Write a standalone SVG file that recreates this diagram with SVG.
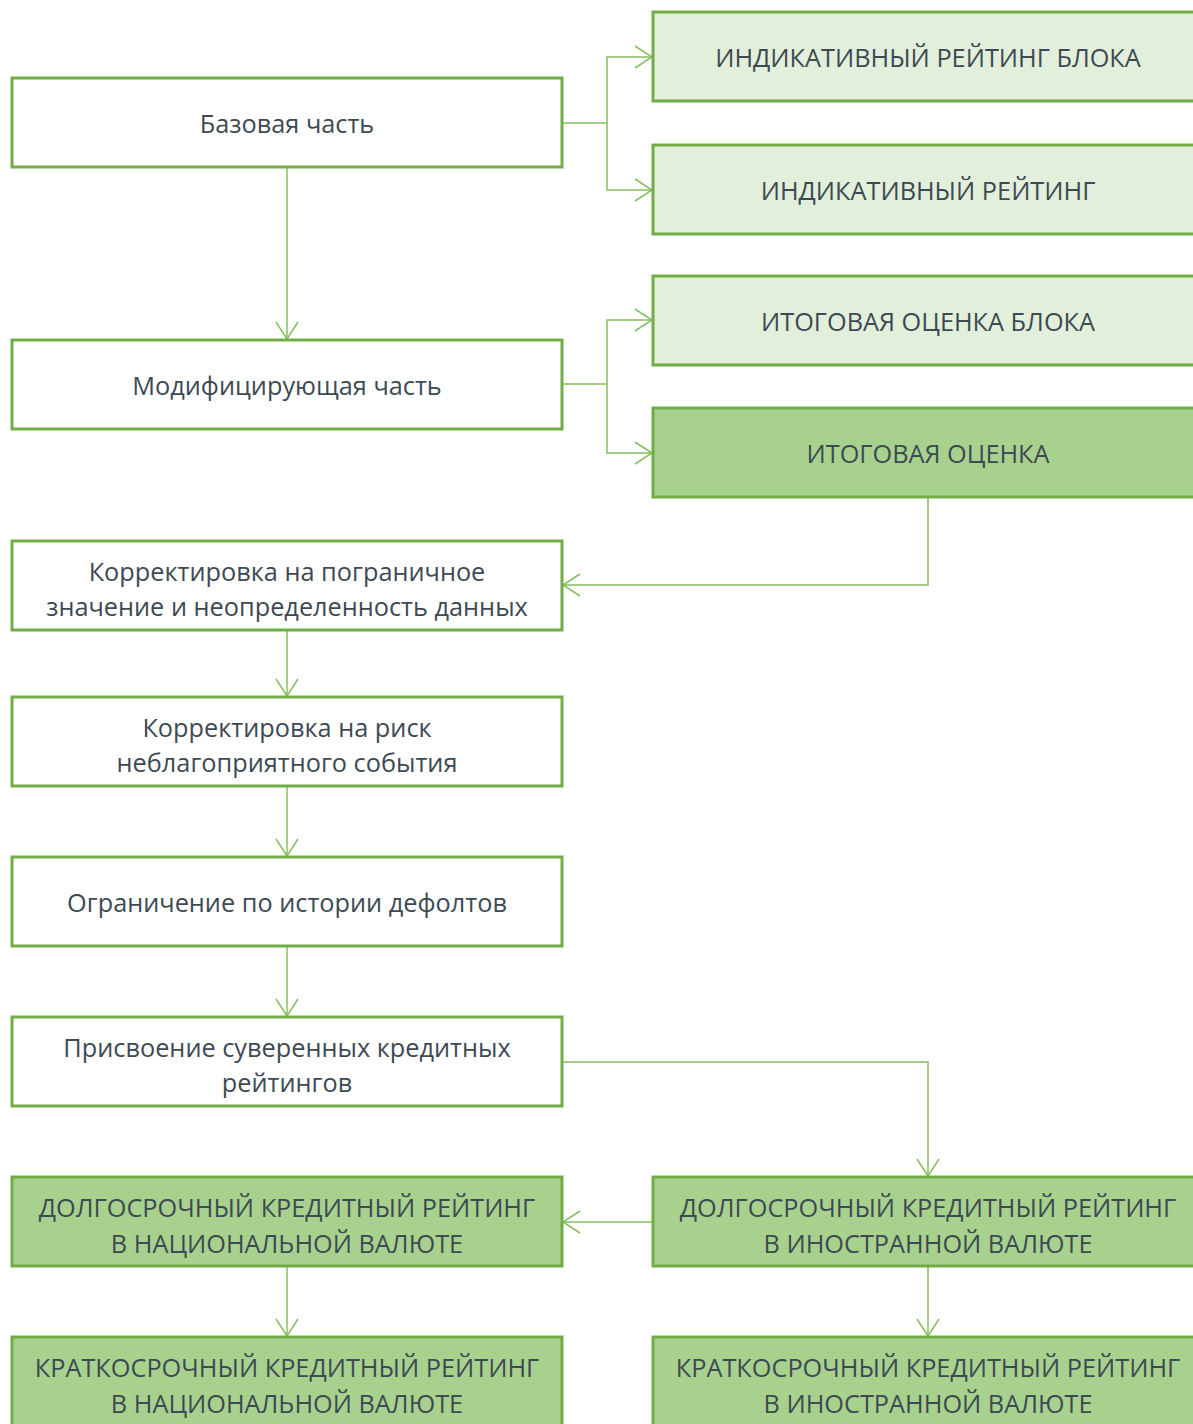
<svg xmlns="http://www.w3.org/2000/svg" width="1193" height="1424" viewBox="0 0 1193 1424">
<defs>
<style>
.box{stroke:#70ad47;stroke-width:3}
.w{fill:#ffffff}
.l{fill:#e2efda}
.d{fill:#a9d18e}
.t{font-family:"Open Sans","Noto Sans","DejaVu Sans",sans-serif;font-size:25.3px;fill:#3d4a53;text-anchor:middle}
.c{fill:none;stroke:#86bf5f;stroke-width:1.5}
</style>
<marker id="a" markerUnits="userSpaceOnUse" markerWidth="20" markerHeight="24" viewBox="0 0 20 24" refX="18" refY="12" orient="auto">
<path d="M1,1 L18,12 L1,23" fill="none" stroke="#86bf5f" stroke-width="1.5"/>
</marker>
</defs>
<rect width="1193" height="1424" fill="#ffffff"/>
<g id="connectors">
<path class="c" d="M562,123 H607 V57 H652" marker-end="url(#a)"/>
<path class="c" d="M607,123 V190 H652" marker-end="url(#a)"/>
<path class="c" d="M287,167 V339" marker-end="url(#a)"/>
<path class="c" d="M562,384 H607 V320 H652" marker-end="url(#a)"/>
<path class="c" d="M607,384 V453 H652" marker-end="url(#a)"/>
<path class="c" d="M928,497 V585 H563" marker-end="url(#a)"/>
<path class="c" d="M287,630 V696" marker-end="url(#a)"/>
<path class="c" d="M287,786 V856" marker-end="url(#a)"/>
<path class="c" d="M287,946 V1016" marker-end="url(#a)"/>
<path class="c" d="M562,1062 H928 V1176" marker-end="url(#a)"/>
<path class="c" d="M653,1222 H563" marker-end="url(#a)"/>
<path class="c" d="M287,1266 V1336" marker-end="url(#a)"/>
<path class="c" d="M928,1266 V1336" marker-end="url(#a)"/>
</g>
<g id="n1"><rect class="box w" x="12" y="78" width="550" height="89"/><text class="t" x="287" y="133">Базовая часть</text></g>
<g id="n2"><rect class="box l" x="653" y="12" width="550" height="89"/><text class="t" x="928" y="67">ИНДИКАТИВНЫЙ РЕЙТИНГ БЛОКА</text></g>
<g id="n3"><rect class="box l" x="653" y="145" width="550" height="89"/><text class="t" x="928" y="200">ИНДИКАТИВНЫЙ РЕЙТИНГ</text></g>
<g id="n4"><rect class="box w" x="12" y="340" width="550" height="89"/><text class="t" x="287" y="395">Модифицирующая часть</text></g>
<g id="n5"><rect class="box l" x="653" y="276" width="550" height="89"/><text class="t" x="928" y="331">ИТОГОВАЯ ОЦЕНКА БЛОКА</text></g>
<g id="n6"><rect class="box d" x="653" y="408" width="550" height="89"/><text class="t" x="928" y="463">ИТОГОВАЯ ОЦЕНКА</text></g>
<g id="n7"><rect class="box w" x="12" y="541" width="550" height="89"/><text class="t" x="287" y="581">Корректировка на пограничное</text><text class="t" x="287" y="616">значение и неопределенность данных</text></g>
<g id="n8"><rect class="box w" x="12" y="697" width="550" height="89"/><text class="t" x="287" y="737">Корректировка на риск</text><text class="t" x="287" y="772">неблагоприятного события</text></g>
<g id="n9"><rect class="box w" x="12" y="857" width="550" height="89"/><text class="t" x="287" y="912">Ограничение по истории дефолтов</text></g>
<g id="n10"><rect class="box w" x="12" y="1017" width="550" height="89"/><text class="t" x="287" y="1057">Присвоение суверенных кредитных</text><text class="t" x="287" y="1092">рейтингов</text></g>
<g id="n11"><rect class="box d" x="12" y="1177" width="550" height="89"/><text class="t" x="287" y="1217">ДОЛГОСРОЧНЫЙ КРЕДИТНЫЙ РЕЙТИНГ</text><text class="t" x="287" y="1253">В НАЦИОНАЛЬНОЙ ВАЛЮТЕ</text></g>
<g id="n12"><rect class="box d" x="653" y="1177" width="550" height="89"/><text class="t" x="928" y="1217">ДОЛГОСРОЧНЫЙ КРЕДИТНЫЙ РЕЙТИНГ</text><text class="t" x="928" y="1253">В ИНОСТРАННОЙ ВАЛЮТЕ</text></g>
<g id="n13"><rect class="box d" x="12" y="1337" width="550" height="89"/><text class="t" x="287" y="1377">КРАТКОСРОЧНЫЙ КРЕДИТНЫЙ РЕЙТИНГ</text><text class="t" x="287" y="1413">В НАЦИОНАЛЬНОЙ ВАЛЮТЕ</text></g>
<g id="n14"><rect class="box d" x="653" y="1337" width="550" height="89"/><text class="t" x="928" y="1377">КРАТКОСРОЧНЫЙ КРЕДИТНЫЙ РЕЙТИНГ</text><text class="t" x="928" y="1413">В ИНОСТРАННОЙ ВАЛЮТЕ</text></g>
</svg>
